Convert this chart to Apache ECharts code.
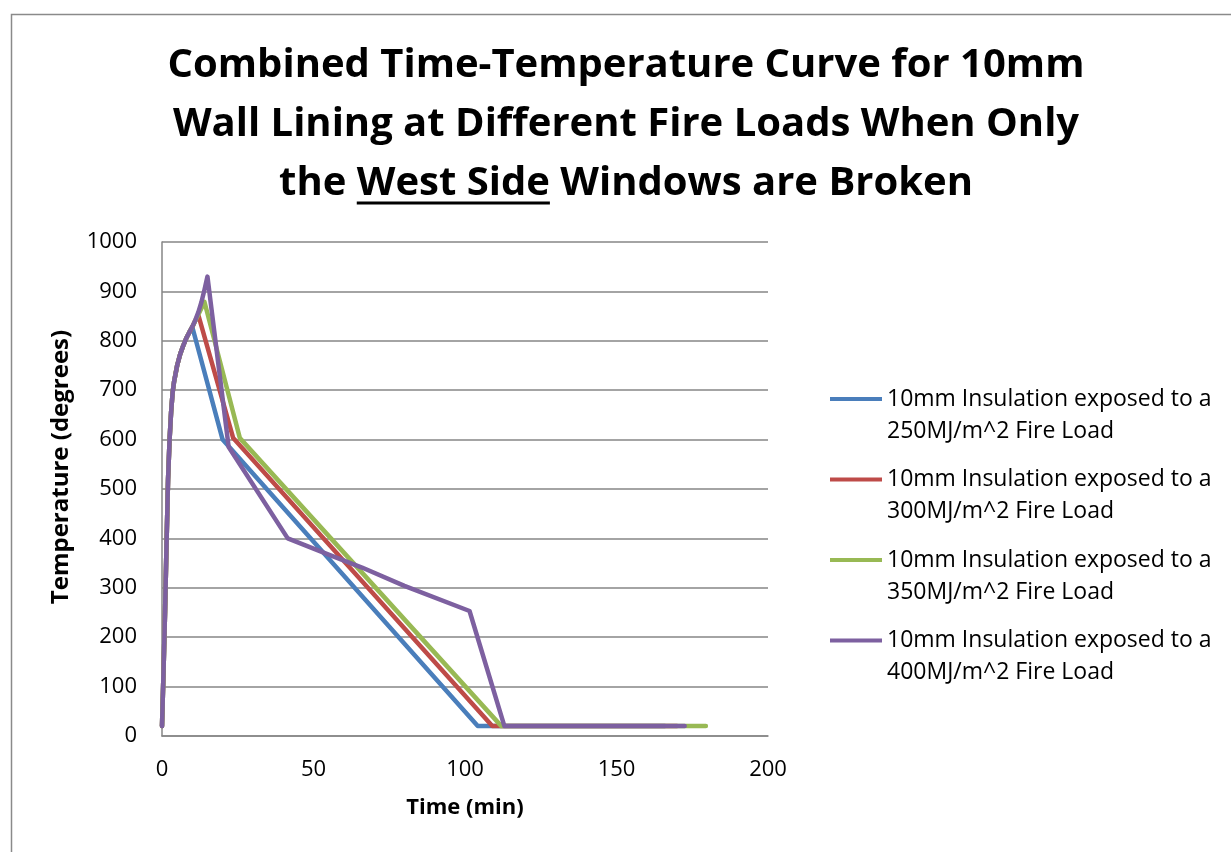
<!DOCTYPE html>
<html>
<head>
<meta charset="utf-8">
<script src="https://cdn.jsdelivr.net/npm/echarts@6/dist/echarts.min.js"></script>
<style>
html,body{margin:0;padding:0;background:#fff;}
#chart{width:1231px;height:852px;}
</style>
</head>
<body>
<div id="chart"></div>
<script>
// ---- Data (time in min, temperature in degrees) ----
const seriesNames = [
  "10mm Insulation exposed to a\n250MJ/m^2 Fire Load",
  "10mm Insulation exposed to a\n300MJ/m^2 Fire Load",
  "10mm Insulation exposed to a\n350MJ/m^2 Fire Load",
  "10mm Insulation exposed to a\n400MJ/m^2 Fire Load"
];
const time250 = [0, 0.5, 1, 1.5, 2, 2.5, 3, 3.5, 4, 5, 6, 7, 8, 9, 10, 20, 104.2, 166];
const temp250 = [20, 130, 250, 390, 520, 600, 655, 695, 718, 750, 773, 790, 805, 817, 828, 600, 20, 20];

const time300 = [0, 0.5, 1, 1.5, 2, 2.5, 3, 3.5, 4, 5, 6, 7, 8, 9, 10, 11, 12, 23.5, 109, 170];
const temp300 = [20, 130, 250, 390, 520, 600, 655, 695, 718, 750, 773, 790, 805, 817, 828, 841, 852, 603, 20, 20];

const time350 = [0, 0.5, 1, 1.5, 2, 2.5, 3, 3.5, 4, 5, 6, 7, 8, 9, 10, 11, 12, 13, 14, 25.7, 112, 179.5];
const temp350 = [20, 130, 250, 390, 520, 600, 655, 695, 718, 750, 773, 790, 805, 817, 828, 841, 853, 866, 879, 603, 20, 20];

const time400 = [0, 0.5, 1, 1.5, 2, 2.5, 3, 3.5, 4, 5, 6, 7, 8, 9, 10, 11, 12, 13, 14, 15, 22, 41.5, 55, 66, 80, 101.5, 113, 172.5];
const temp400 = [20, 130, 250, 390, 520, 600, 655, 695, 718, 750, 773, 790, 805, 817, 828, 842, 858, 878, 903, 930, 585, 400, 367, 341, 304, 253, 20, 20];

const xTicks = { min: 0, max: 200, interval: 50 };
const yTicks = { min: 0, max: 1000, interval: 100 };

const colors = ["#4A7EBB", "#BE4B48", "#98B954", "#7D60A0"];
const titleLines = [
  "Combined Time-Temperature Curve for 10mm",
  "Wall Lining at Different Fire Loads When Only",
  "the West Side Windows are Broken"
];

function pairs(t, v) { return t.map((x, i) => [x, v[i]]); }
const allData = [pairs(time250, temp250), pairs(time300, temp300), pairs(time350, temp350), pairs(time400, temp400)];

const FONT = "'Open Sans', Lato, sans-serif";
const titleSize = 40;
const titleCenterX = 626;

// measure for underline of "West Side"
const cv = document.createElement('canvas').getContext('2d');
cv.font = "bold " + titleSize + "px 'Open Sans'";
const line3 = titleLines[2];
const w3 = cv.measureText(line3).width;
const wPre = cv.measureText("the ").width;
const wWS = cv.measureText("the West Side").width;
const ulStart = titleCenterX - w3 / 2 + wPre;
const ulEnd = titleCenterX - w3 / 2 + wWS;

const chart = echarts.init(document.getElementById('chart'));
chart.setOption({
  backgroundColor: '#fff',
  animation: false,
  title: {
    text: titleLines.join("\n"),
    left: titleCenterX,
    top: 36,
    textAlign: 'center',
    padding: 0,
    textStyle: { fontFamily: FONT, fontSize: titleSize, fontWeight: 'bold', color: '#000', lineHeight: 59 }
  },
  graphic: [
    { type: 'rect', left: 9, top: 12, shape: { width: 1400, height: 1000 }, style: { fill: null, stroke: '#8a8a8a', lineWidth: 1.5 }, silent: true },
    { type: 'line', shape: { x1: ulStart, y1: 203, x2: ulEnd, y2: 203 }, style: { stroke: '#000', lineWidth: 3 }, silent: true }
  ],
  legend: {
    orient: 'vertical',
    left: 830,
    top: 351,
    padding: 0,
    itemWidth: 52,
    itemHeight: 14,
    itemGap: -15.5,
    icon: 'path://M0,0 L52,0 L52,4 L0,4 Z',
    formatter: function (n) { return '\n' + n; },
    textStyle: { fontFamily: FONT, fontSize: 23, color: '#000', lineHeight: 32 },
    data: seriesNames
  },
  grid: { left: 162, right: 463, top: 242, bottom: 116 },
  xAxis: {
    type: 'value',
    min: xTicks.min, max: xTicks.max, interval: xTicks.interval,
    name: 'Time (min)',
    nameLocation: 'middle',
    nameGap: 61,
    nameTextStyle: { fontFamily: FONT, fontSize: 22, fontWeight: 'bold', color: '#000' },
    axisLine: { show: true, lineStyle: { color: '#868686', width: 1.5 } },
    axisTick: { show: false },
    splitLine: { show: false },
    axisLabel: { fontFamily: FONT, fontSize: 22, color: '#000', margin: 23 }
  },
  yAxis: {
    type: 'value',
    min: yTicks.min, max: yTicks.max, interval: yTicks.interval,
    name: 'Temperature (degrees)',
    nameLocation: 'middle',
    nameGap: 89,
    nameTextStyle: { fontFamily: FONT, fontSize: 24, fontWeight: 'bold', color: '#000', padding: [0, 0, 0, 44] },
    axisLine: { show: true, lineStyle: { color: '#868686', width: 1.5 } },
    axisTick: { show: false },
    splitLine: { show: true, lineStyle: { color: '#868686', width: 1.5 } },
    axisLabel: { fontFamily: FONT, fontSize: 22, color: '#000', margin: 25, formatter: function (v) { return String(v); } }
  },
  series: allData.map((d, i) => ({
    name: seriesNames[i],
    type: 'line',
    data: d,
    symbol: 'none',
    smooth: false,
    color: colors[i],
    lineStyle: { color: colors[i], width: 4.5, cap: 'round', join: 'round' },
    z: 2 + i
  }))
});
</script>
</body>
</html>
